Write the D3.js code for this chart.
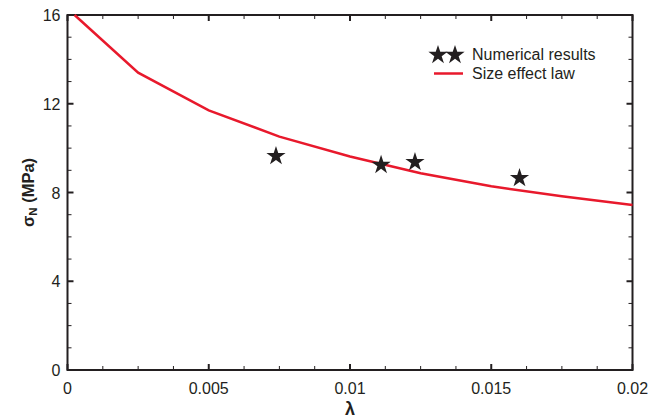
<!DOCTYPE html>
<html><head><meta charset="utf-8">
<script src="https://cdn.jsdelivr.net/npm/d3@7"></script>
<style>body{margin:0;background:#fff}svg{display:block}text{font-family:"Liberation Sans",Arial,sans-serif;fill:#231f20}</style>
</head><body>
<script>
const lawLambda = [0.00025, 0.0025, 0.005, 0.0075, 0.01, 0.0125, 0.015, 0.0175, 0.02];
const lawSigma  = [16, 13.4, 11.7, 10.52, 9.62, 8.87, 8.28, 7.83, 7.44];
const numLambda = [0.00738, 0.0111, 0.0123, 0.016];
const numSigma  = [9.64, 9.24, 9.37, 8.65];
const xTicks = [0, 0.005, 0.01, 0.015, 0.02];
const xTickLabels = ["0", "0.005", "0.01", "0.015", "0.02"];
const yTicks = [0, 4, 8, 12, 16];
const yTickLabels = ["0", "4", "8", "12", "16"];
const legendLabels = ["Numerical results", "Size effect law"];

const W = 649, H = 418;
const m = {l: 67.5, r: 16.5, t: 15, b: 48};
const svg = d3.select("body").append("svg").attr("width", W).attr("height", H);
const x = d3.scaleLinear().domain([0, 0.02]).range([m.l, W - m.r]);
const y = d3.scaleLinear().domain([0, 16]).range([H - m.b, m.t]);
const col = "#231f20";

// minor ticks
const xMinor = d3.range(0, 0.02 + 1e-9, 0.00125).filter(v => !xTicks.some(t => Math.abs(t - v) < 1e-9));
const yMinor = d3.range(0, 16.001, 1).filter(v => !yTicks.includes(v));
const g = svg.append("g");
function ticks(vals, len, w) {
  vals.forEach(v => {
    g.append("line").attr("x1", x(v)).attr("x2", x(v)).attr("y1", y(0)).attr("y2", y(0) - len).attr("stroke", col).attr("stroke-width", w);
    g.append("line").attr("x1", x(v)).attr("x2", x(v)).attr("y1", y(16)).attr("y2", y(16) + len).attr("stroke", col).attr("stroke-width", w);
  });
}
function yticks(vals, len, w) {
  vals.forEach(v => {
    g.append("line").attr("y1", y(v)).attr("y2", y(v)).attr("x1", x(0)).attr("x2", x(0) + len).attr("stroke", col).attr("stroke-width", w);
    g.append("line").attr("y1", y(v)).attr("y2", y(v)).attr("x1", x(0.02)).attr("x2", x(0.02) - len).attr("stroke", col).attr("stroke-width", w);
  });
}
ticks(xMinor, 4, 1); ticks(xTicks, 6, 2);
yticks(yMinor, 4, 1); yticks(yTicks, 6, 2);

g.append("rect").attr("x", x(0)).attr("y", y(16)).attr("width", x(0.02) - x(0)).attr("height", y(0) - y(16))
  .attr("fill", "none").attr("stroke", col).attr("stroke-width", 2);

// tick labels
xTicks.forEach((v, i) => svg.append("text").attr("x", x(v)).attr("y", y(0) + 24).attr("text-anchor", "middle").attr("font-size", 16).text(xTickLabels[i]));
yTicks.forEach((v, i) => svg.append("text").attr("x", x(0) - 7).attr("y", y(v) + 6).attr("text-anchor", "end").attr("font-size", 16).text(yTickLabels[i]));

// axis titles
svg.append("text").attr("x", (x(0) + x(0.02)) / 2).attr("y", 415).attr("text-anchor", "middle").attr("font-size", 18).attr("font-weight", "bold").text("λ");
const yl = svg.append("text").attr("transform", `translate(34,${(y(0) + y(16)) / 2}) rotate(-90)`).attr("text-anchor", "middle").attr("font-size", 16.5).attr("font-weight", "bold");
yl.append("tspan").text("σ");
yl.append("tspan").attr("font-size", 11.5).attr("dy", 3).text("N");
yl.append("tspan").attr("dy", -3).text(" (MPa)");

// line
const lawData = lawLambda.map((l, i) => [l, lawSigma[i]]);
svg.append("path").datum(lawData).attr("fill", "none").attr("stroke", "#e8192c").attr("stroke-width", 2.5)
  .attr("d", d3.line().x(d => x(d[0])).y(d => y(d[1])));

// stars
const star = d3.symbol().type(d3.symbolStar).size(115);
numLambda.forEach((l, i) => svg.append("path").attr("d", star()).attr("transform", `translate(${x(l)},${y(numSigma[i])})`).attr("fill", col));

// legend
svg.append("path").attr("d", star()).attr("transform", "translate(438,55)").attr("fill", col);
svg.append("path").attr("d", star()).attr("transform", "translate(455,55)").attr("fill", col);
svg.append("text").attr("x", 472).attr("y", 60).attr("font-size", 16).text(legendLabels[0]);
svg.append("line").attr("x1", 434).attr("x2", 463).attr("y1", 73.5).attr("y2", 73.5).attr("stroke", "#e8192c").attr("stroke-width", 2.5);
svg.append("text").attr("x", 472).attr("y", 79).attr("font-size", 16).text(legendLabels[1]);
</script>
</body></html>
